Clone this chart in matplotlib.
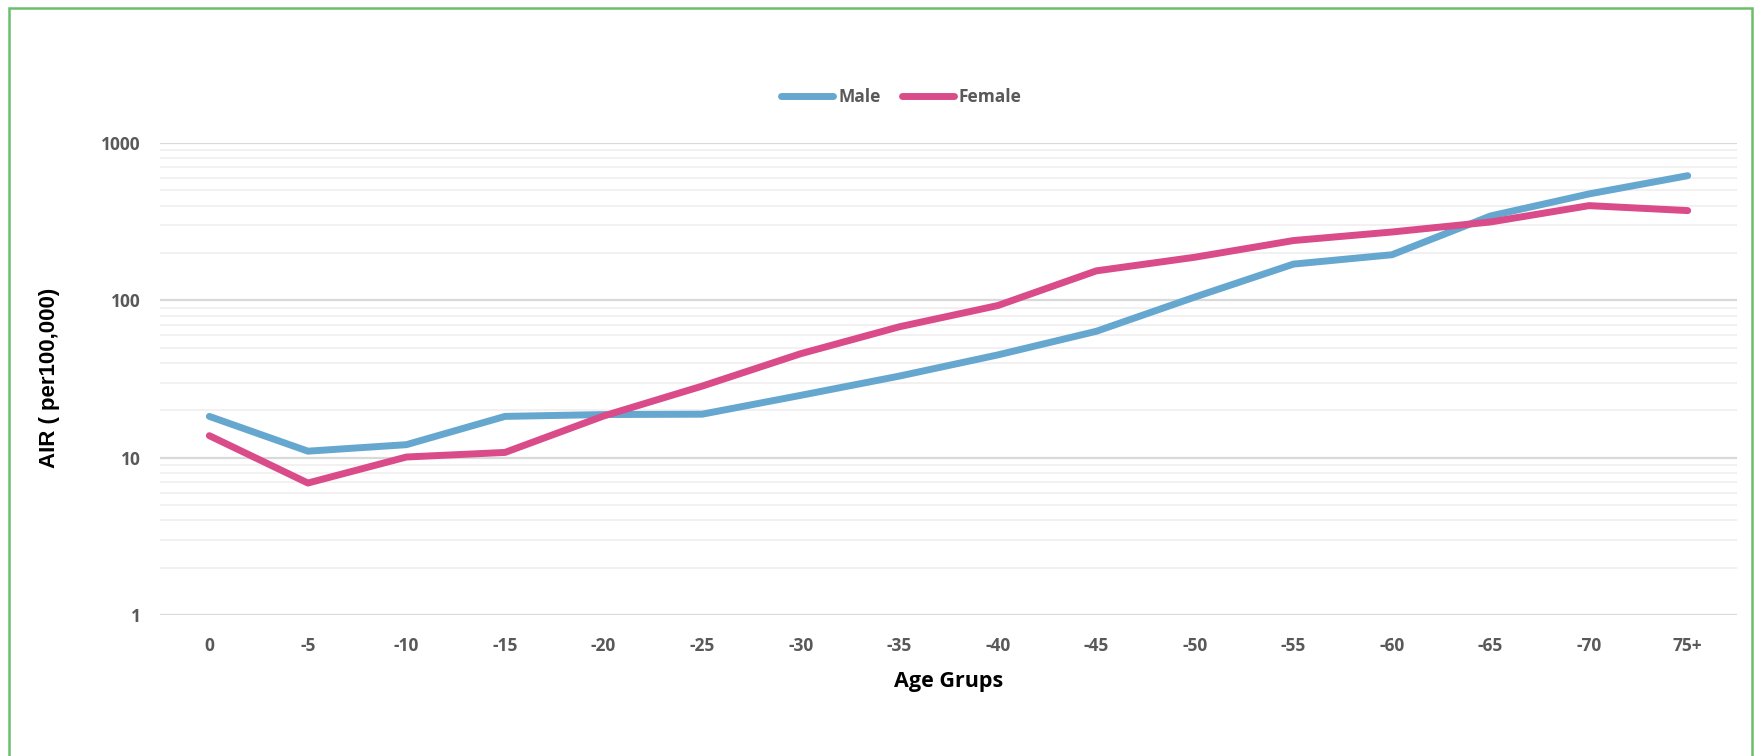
import matplotlib
matplotlib.use('Agg')
from matplotlib import pyplot as plt
from matplotlib.patches import Rectangle
from matplotlib.ticker import LogLocator, FixedLocator, NullFormatter

age_groups = ['0', '-5', '-10', '-15', '-20', '-25', '-30', '-35', '-40',
              '-45', '-50', '-55', '-60', '-65', '-70', '75+']
male = [18.3, 11.0, 12.1, 18.3, 18.8, 18.9, 24.9, 33.0, 45.0,
        63.6, 105.0, 170.0, 195.0, 344.0, 475.0, 620.0]
female = [13.8, 6.9, 10.1, 10.8, 18.4, 28.5, 45.8, 67.9, 92.7,
          154.0, 188.0, 240.0, 272.0, 315.0, 400.0, 372.0]

male_color = '#66A7D0'
female_color = '#D94B89'
text_gray = '#595959'

plt.rcParams['font.family'] = ['Open Sans', 'DejaVu Sans']

fig = plt.figure(figsize=(17.57, 7.56), dpi=100)
ax = fig.add_axes([0.0911, 0.1865, 0.8975, 0.6243])

x = list(range(len(age_groups)))
ax.plot(x, male, color=male_color, lw=5, solid_capstyle='round',
        solid_joinstyle='round', label='Male', zorder=3)
ax.plot(x, female, color=female_color, lw=5, solid_capstyle='round',
        solid_joinstyle='round', label='Female', zorder=3)

ax.set_yscale('log')
ax.set_ylim(1, 1000)
ax.set_xlim(-0.5, len(age_groups) - 0.5)

ax.yaxis.set_major_locator(FixedLocator([1, 10, 100, 1000]))
ax.set_yticklabels(['1', '10', '100', '1000'])
ax.yaxis.set_minor_locator(LogLocator(base=10, subs=range(2, 10)))
ax.yaxis.set_minor_formatter(NullFormatter())
ax.grid(which='major', axis='y', color='#D9D9D9', lw=1.6, zorder=0)
ax.grid(which='minor', axis='y', color='#F0EDED', lw=1.2, zorder=0)

ax.set_xticks(x)
ax.set_xticklabels(age_groups)
ax.tick_params(axis='both', which='both', length=0)
ax.tick_params(axis='x', pad=16, labelsize=12.5, labelcolor=text_gray)
ax.tick_params(axis='y', pad=14, labelsize=12.5, labelcolor=text_gray)
for lbl in ax.get_xticklabels() + ax.get_yticklabels():
    lbl.set_fontweight('bold')

for side in ['top', 'right', 'left', 'bottom']:
    ax.spines[side].set_visible(False)

ax.set_xlabel('Age Grups', fontsize=15.5, fontweight='bold', color='black',
              labelpad=11)
fig.text(0.028, 0.5, 'AIR ( per100,000)', rotation=90, ha='center',
         va='center', fontsize=16, fontweight='bold', color='black',
         family=['Liberation Sans', 'DejaVu Sans'])

leg = fig.legend(loc='center', bbox_to_anchor=(0.513, 0.872), ncol=2,
                 frameon=False, fontsize=12.5, handlelength=3.0,
                 handletextpad=0.3, columnspacing=1.2)
for t in leg.get_texts():
    t.set_color(text_gray)
    t.set_fontweight('bold')

# green frame around the chart
fig.patches.append(Rectangle((0.0051, -0.05), 0.9921, 1.0394,
                             transform=fig.transFigure, fill=False,
                             edgecolor='#6ABF69', lw=1.8))

fig.savefig('out.png', dpi=100, facecolor='white')
